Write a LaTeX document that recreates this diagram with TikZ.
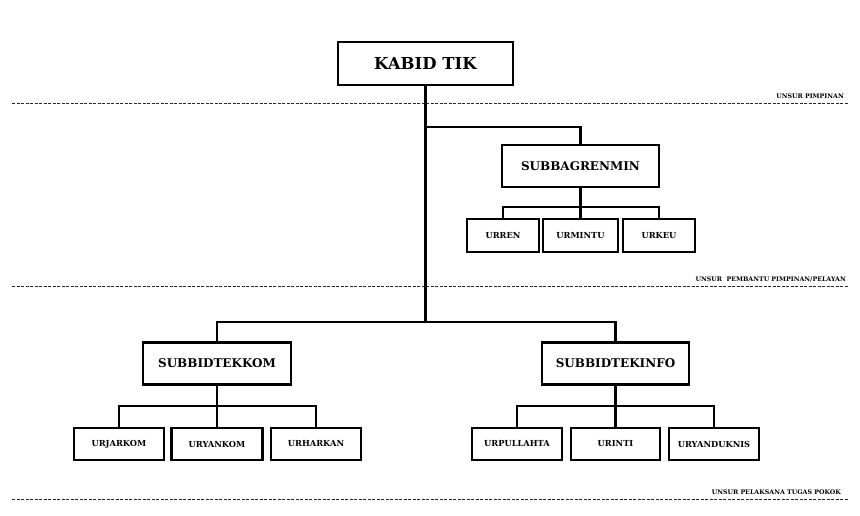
\documentclass[tikz,border=0pt]{standalone}
\usepackage{fontspec}
\setmainfont{DejaVu Serif}
\begin{document}
\begin{tikzpicture}[x=1pt,y=-1pt,
  box/.style={draw=black,line width=2.2pt,fill=white,inner sep=0pt,align=center,font=\bfseries},
  topbox/.style={box,minimum width=175pt,minimum height=43pt,font=\bfseries\fontsize{16.5}{18}\selectfont},
  midbox/.style={box,minimum width=148pt,minimum height=42pt,font=\bfseries\fontsize{12}{13}\selectfont},
  smallbox/.style={box,minimum width=90pt,minimum height=32pt,font=\bfseries\fontsize{8.3}{9}\selectfont},
  conn/.style={draw=black,line width=2.2pt},
  sep/.style={draw=black!85,line width=1pt,dash pattern=on 3pt off 1.5pt},
  seplabel/.style={anchor=base east,inner sep=0pt,font=\bfseries\fontsize{6.3}{7}\selectfont}]
\useasboundingbox (0,0) rectangle (860,515);
\fill[white] (0,0) rectangle (860,515);

% separators
\coordinate (s1a) at (12,103); \coordinate (s1b) at (848,103);
\coordinate (s2a) at (12,286); \coordinate (s2b) at (848,286);
\coordinate (s3a) at (12,499); \coordinate (s3b) at (848,499);
\draw[sep] (s1a) -- (s1b);
\draw[sep] (s2a) -- (s2b);
\draw[sep] (s3a) -- (s3b);
\node[seplabel] (l1) at (844,98) {UNSUR PIMPINAN};
\node[seplabel] (l2) at (846,281) {UNSUR\ \ PEMBANTU PIMPINAN/PELAYAN};
\node[seplabel] (l3) at (841,494) {UNSUR PELAKSANA TUGAS POKOK};

% nodes
\node[topbox] (kabid) at (425.5,63.5) {KABID TIK};
\node[midbox,minimum width=157pt] (subbag) at (580.5,166) {SUBBAGRENMIN};
\node[smallbox,minimum width=72pt,minimum height=33pt] (urren) at (503,235.5) {URREN};
\node[smallbox,minimum width=75pt,minimum height=33pt] (urmintu) at (580.5,235.5) {URMINTU};
\node[smallbox,minimum width=72pt,minimum height=33pt] (urkeu) at (659,235.5) {URKEU};

\node[midbox] (tekkom) at (217,363.5) {SUBBIDTEKKOM};
\node[midbox,minimum width=147pt] (tekinfo) at (615.5,363.5) {SUBBIDTEKINFO};

\node[smallbox] (urjarkom) at (119,444) {URJARKOM};
\node[smallbox,minimum width=91pt] (uryankom) at (217,444) {URYANKOM};
\node[smallbox] (urharkan) at (316,444) {URHARKAN};

\node[smallbox] (urpullahta) at (517,444) {URPULLAHTA};
\node[smallbox,minimum width=89pt] (urinti) at (615.5,444) {URINTI};
\node[smallbox] (uryanduknis) at (714,444) {URYANDUKNIS};

% connectors
\coordinate (busTop) at (425.5,127);
\coordinate (busMain) at (425.5,322);
\draw[conn] (kabid.south) -- (busMain);
\draw[conn] (busTop) -| (subbag.north);
\draw[conn] (tekkom.north) |- (busMain) -| (tekinfo.north);

\coordinate (busSub) at (580.5,207);
\draw[conn] (subbag.south) -- (urmintu.north);
\draw[conn] (urren.north) |- (busSub) -| (urkeu.north);

\coordinate (busKom) at (217,406);
\draw[conn] (tekkom.south) -- (uryankom.north);
\draw[conn] (urjarkom.north) |- (busKom) -| (urharkan.north);

\coordinate (busInfo) at (615.5,406);
\draw[conn] (tekinfo.south) -- (urinti.north);
\draw[conn] (urpullahta.north) |- (busInfo) -| (uryanduknis.north);
\end{tikzpicture}
\end{document}
